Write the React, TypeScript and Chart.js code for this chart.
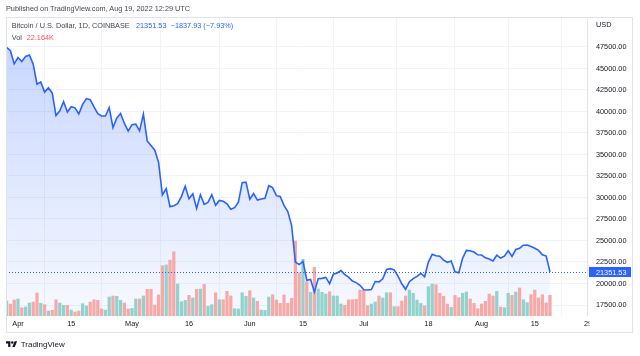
import React, { useEffect, useRef } from "react";
import { Chart, registerables } from "chart.js";
Chart.register(...registerables);

// ---- data ----
const startDate = "2022-03-29";
const axisOrigin = "2022-04-01";

const closes = [
  47465, 47062, 45538, 46282, 45811, 46407, 46580, 45497, 43170, 43444,
  42252, 42753, 42158, 39530, 40074, 41147, 39942, 40552, 40424, 39716,
  40826, 41502, 41374, 40527, 39740, 39478, 39470, 40458, 38117, 39241,
  39773, 38609, 37714, 38469, 38529, 37750, 39698, 36575, 36040, 35501,
  34059, 30296, 31022, 28936, 29047, 29283, 30101, 31305, 29862, 30425,
  28720, 30314, 29200, 29432, 30323, 29098, 29655, 29562, 29267, 28627,
  28814, 29445, 31726, 31792, 29799, 30467, 29704, 29832, 29906, 31370,
  31155, 30214, 30112, 29083, 28360, 26762, 22487, 22206, 22572, 20381,
  20471, 19017, 20553, 20599, 20710, 19987, 21085, 21231, 21502, 21028,
  20735, 20280, 20105, 19785, 19269, 19243, 19297, 20231, 20191, 20549,
  21638, 21731, 21592, 20861, 19970, 19323, 20212, 20569, 20836, 21190,
  20779, 22485, 23389, 23231, 23164, 22714, 22465, 22609, 21361, 21239,
  22930, 23843, 23804, 23656, 23336, 23314, 22978, 22846, 22630, 23289,
  22961, 23175, 23810, 23149, 23954, 24100, 24450, 24480, 24305, 24094,
  23854, 23342, 23191, 21351.53,
];

// volume in thousands of BTC
const volumesK = [
  16.1, 12.8, 17.1, 18.2, 8.9, 9.6, 13.9, 15.0, 24.6, 13.6,
  12.1, 5.4, 6.1, 17.4, 13.9, 11.4, 11.4, 6.4, 4.3, 5.4,
  13.2, 10.7, 15.0, 17.4, 16.8, 7.5, 6.4, 20.3, 21.4, 21.1,
  16.8, 13.9, 7.5, 8.2, 18.2, 18.2, 21.4, 28.6, 28.6, 11.8,
  22.5, 53.8, 54.6, 59.9, 68.8, 34.2, 15.3, 16.8, 22.1, 19.3,
  28.6, 28.9, 33.9, 10.4, 12.1, 24.9, 17.4, 17.4, 26.4, 21.4,
  7.8, 7.5, 24.9, 21.1, 27.1, 19.3, 15.7, 6.4, 6.1, 20.3,
  22.8, 17.1, 13.6, 22.5, 13.6, 18.9, 80.3, 46.3, 60.7, 36.7,
  25.4, 52.1, 28.9, 25.4, 23.5, 26.0, 21.4, 21.4, 12.8, 11.4,
  17.4, 17.4, 17.9, 27.8, 27.8, 11.0, 12.8, 15.0, 21.4, 19.3,
  24.9, 24.9, 10.0, 10.0, 16.1, 21.4, 27.8, 24.3, 17.1, 13.6,
  11.0, 31.4, 34.2, 33.5, 24.3, 21.1, 12.8, 9.3, 22.1, 19.6,
  24.3, 25.7, 18.2, 13.6, 7.8, 12.8, 15.7, 23.5, 21.4, 26.4,
  9.6, 8.9, 24.3, 22.1, 25.7, 30.0, 17.4, 14.2, 22.8, 27.8,
  19.3, 22.8, 13.9, 22.164,
];

// 1 = up day (teal), 0 = down day (red)
const volumeUp = [
  1, 0, 0, 1, 0, 1, 1, 0, 0, 1,
  0, 1, 0, 0, 1, 1, 0, 1, 0, 0,
  1, 1, 0, 0, 0, 0, 1, 1, 0, 1,
  1, 0, 0, 1, 1, 0, 1, 0, 0, 0,
  0, 0, 1, 0, 0, 1, 1, 1, 0, 1,
  0, 1, 0, 1, 1, 0, 1, 0, 0, 0,
  1, 1, 1, 1, 0, 1, 0, 1, 1, 1,
  0, 0, 0, 0, 0, 0, 0, 0, 1, 0,
  1, 0, 1, 1, 1, 0, 1, 1, 1, 0,
  0, 0, 0, 0, 0, 0, 1, 1, 0, 1,
  1, 0, 1, 0, 0, 0, 1, 1, 1, 1,
  0, 1, 1, 0, 0, 0, 0, 1, 0, 0,
  1, 1, 0, 0, 0, 0, 0, 0, 0, 1,
  0, 1, 1, 0, 1, 0, 1, 1, 0, 0,
  0, 0, 0, 0,
];

const priceTicks = [17500, 20000, 22500, 25000, 27500, 30000, 32500, 35000, 37500, 40000, 42500, 45000, 47500];
const tickDates = ["2022-04-01", "2022-04-15", "2022-05-01", "2022-05-16", "2022-06-01", "2022-06-15", "2022-07-01", "2022-07-18", "2022-08-01", "2022-08-15", "2022-08-29"];
const tickLabels = ["Apr", "15", "May", "16", "Jun", "15", "Jul", "18", "Aug", "15", "29"];

const lastPrice = 21351.53;
const changeText = "\u22121837.93 (\u22127.93%)";
const volText = "22.164K";

// ---- helpers ----
const DAY = 86400000;
const dayOf = (s: string) => (Date.parse(s + "T00:00:00Z") - Date.parse(axisOrigin + "T00:00:00Z")) / DAY;
const startDay = dayOf(startDate);
const dayX = closes.map((_, i) => startDay + i);
const tickX = tickDates.map(dayOf);

const FONT = "'Liberation Sans', Arial, sans-serif";
const FS = 7.3;
const BLUE = "#2962ff";
const TEAL = "#92d2cc";
const RED = "#f7a9a7";
const GRID = "#f0f3fa";
const BORDER = "#e0e3eb";

function Txt(props: { x: number; y: number; color?: string; size?: number; children: React.ReactNode }) {
  const size = props.size ?? FS;
  return (
    <div
      style={{
        position: "absolute",
        left: props.x,
        top: props.y - size * 0.5,
        fontFamily: FONT,
        fontSize: size,
        lineHeight: `${size}px`,
        color: props.color ?? "#131722",
        whiteSpace: "nowrap",
      }}
    >
      {props.children}
    </div>
  );
}

export default function App() {
  const ref = useRef<HTMLCanvasElement | null>(null);

  useEffect(() => {
    const canvas = ref.current;
    if (!canvas) return;

    const framePlugin = {
      id: "frame",
      afterDatasetsDraw(chart: any) {
        const { ctx, chartArea } = chart;
        const y = chart.scales.y.getPixelForValue(lastPrice);
        ctx.save();
        ctx.strokeStyle = BLUE;
        ctx.lineWidth = 1;
        ctx.setLineDash([1, 2]);
        ctx.beginPath();
        ctx.moveTo(chartArea.left, Math.round(y) + 0.5);
        ctx.lineTo(chartArea.right, Math.round(y) + 0.5);
        ctx.stroke();
        ctx.restore();
      },
      afterDraw(chart: any) {
        const { ctx, chartArea } = chart;
        ctx.save();
        // clip the time label under the price axis column
        ctx.fillStyle = "#ffffff";
        ctx.fillRect(589.5, chartArea.bottom + 0.5, 44, 15);
        // pane frame
        ctx.strokeStyle = BORDER;
        ctx.lineWidth = 1;
        ctx.strokeRect(6.5, 17.5, 626, 315);
        ctx.beginPath();
        ctx.moveTo(587.5, 17.5);
        ctx.lineTo(587.5, chartArea.bottom);
        ctx.stroke();
        // last price label
        const y = Math.round(chart.scales.y.getPixelForValue(lastPrice));
        ctx.fillStyle = BLUE;
        ctx.fillRect(589, y - 5, 42, 10);
        ctx.fillStyle = "#ffffff";
        ctx.font = `${FS}px ${FONT}`;
        ctx.textBaseline = "middle";
        ctx.textAlign = "left";
        ctx.fillText(lastPrice.toFixed(2), 596, y + 0.5);
        ctx.restore();
      },
    };

    const chart = new Chart(canvas, {
      type: "line",
      data: {
        datasets: [
          {
            type: "line",
            data: closes.map((c, i) => ({ x: dayX[i], y: c })),
            borderColor: BLUE,
            borderWidth: 1.6,
            pointRadius: 0,
            tension: 0,
            fill: "start",
            backgroundColor: (ctx: any) => {
              const { chart } = ctx;
              const area = chart.chartArea;
              if (!area) return "rgba(41,98,255,0.15)";
              const g = chart.ctx.createLinearGradient(0, area.top, 0, area.bottom);
              g.addColorStop(0, "rgba(41,98,255,0.28)");
              g.addColorStop(1, "rgba(41,98,255,0.04)");
              return g;
            },
            yAxisID: "y",
            order: 0,
          } as any,
          {
            type: "bar",
            data: volumesK.map((v, i) => ({ x: dayX[i], y: v })),
            backgroundColor: volumeUp.map((u) => (u ? TEAL : RED)),
            barThickness: 2.6,
            yAxisID: "v",
            order: 1,
          } as any,
        ],
      },
      options: {
        responsive: false,
        animation: false,
        devicePixelRatio: 1,
        layout: { padding: { left: 6, top: 17, right: 7, bottom: 24 } },
        plugins: {
          legend: { display: false },
          tooltip: { enabled: false },
          filler: { drawTime: "beforeDatasetsDraw" },
        } as any,
        scales: {
          x: {
            type: "linear",
            min: -3.158,
            max: 149.74,
            offset: false,
            grid: { color: GRID, drawTicks: false },
            border: { display: false },
            afterBuildTicks: (s: any) => {
              s.ticks = tickX.map((v) => ({ value: v }));
            },
            afterFit: (s: any) => {
              s.height = 16;
            },
            ticks: {
              autoSkip: false,
              maxRotation: 0,
              padding: 4,
              color: "#131722",
              font: { family: FONT, size: FS },
              callback: (_v: any, idx: number) => tickLabels[idx],
            },
          },
          y: {
            type: "linear",
            position: "right",
            min: 16221,
            max: 50988,
            grid: { color: GRID, drawTicks: false },
            border: { display: false },
            afterBuildTicks: (s: any) => {
              s.ticks = priceTicks.map((v) => ({ value: v }));
            },
            afterFit: (s: any) => {
              s.width = 46;
            },
            ticks: {
              padding: 9,
              color: "#131722",
              font: { family: FONT, size: FS },
              callback: (v: any) => Number(v).toFixed(2),
            },
          },
          v: {
            type: "linear",
            display: false,
            min: 0,
            max: 320,
          },
        } as any,
      },
      plugins: [framePlugin],
    });

    return () => chart.destroy();
  }, []);

  return (
    <div style={{ position: "fixed", left: 0, top: 0, width: 640, height: 356, background: "#ffffff", overflow: "hidden" }}>
      <canvas ref={ref} width={640} height={356} style={{ position: "absolute", left: 0, top: 0, width: 640, height: 356 }} />
      <Txt x={6} y={8.3} color="#434651">Published on TradingView.com, Aug 19, 2022 12:29 UTC</Txt>
      <Txt x={11.7} y={26} color="#434651">Bitcoin / U.S. Dollar, 1D, COINBASE</Txt>
      <Txt x={136} y={26} color={BLUE}>{lastPrice.toFixed(2)}</Txt>
      <Txt x={170.7} y={26} color={BLUE}>{changeText}</Txt>
      <Txt x={11.7} y={37.3} color="#434651">Vol</Txt>
      <Txt x={26.7} y={37.3} color="#ef5350">{volText}</Txt>
      <Txt x={596} y={25} color="#131722">USD</Txt>
      <svg
        width={11.3}
        height={8.8}
        viewBox="0 0 36 28"
        style={{ position: "absolute", left: 6, top: 340.4 }}
      >
        <path d="M14 22H7V11H0V4h14v18zM28 22h-8l7.5-18h8L28 22z" fill="#131722" />
        <circle cx="20" cy="8" r="4" fill="#131722" />
      </svg>
      <Txt x={20.7} y={345} size={8} color="#131722">TradingView</Txt>
    </div>
  );
}
